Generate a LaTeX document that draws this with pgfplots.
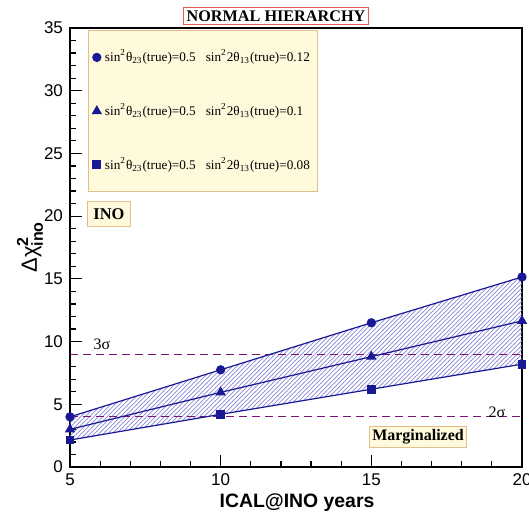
\documentclass[border=0pt]{standalone}
\usepackage{fontspec}
\setmainfont{Liberation Serif}
\setsansfont{Liberation Sans}
\usepackage{pgfplots}
\pgfplotsset{compat=1.18}
\usepgfplotslibrary{fillbetween}
\usetikzlibrary{patterns}

\definecolor{navy}{RGB}{25,25,150}
\definecolor{hatch}{RGB}{140,140,215}
\definecolor{sigmaline}{RGB}{120,20,120}
\definecolor{paneyellow}{RGB}{255,250,220}
\definecolor{paneborder}{RGB}{225,190,140}
\definecolor{titlered}{RGB}{225,90,90}

% fine diagonal hatching for the band
\pgfdeclarepatternformonly{densehatch}{\pgfqpoint{-1pt}{-1pt}}{\pgfqpoint{3.2pt}{3.2pt}}{\pgfqpoint{2.2pt}{2.2pt}}{
  \pgfsetlinewidth{0.35pt}
  \pgfpathmoveto{\pgfqpoint{-0.1pt}{-0.1pt}}
  \pgfpathlineto{\pgfqpoint{2.3pt}{2.3pt}}
  \pgfusepath{stroke}
}

\newcommand{\sinsq}{sin\textsuperscript{2}}
\newcommand{\entry}[1]{\sinsq θ\textsubscript{23}(true)=0.5\hspace{5pt}\sinsq 2θ\textsubscript{13}(true)=#1}

\begin{document}
\begin{tikzpicture}
\begin{axis}[
  at={(35pt,24pt)}, anchor=south west,
  width=226pt, height=219.5pt, scale only axis,
  xmin=5, xmax=20, ymin=0, ymax=35,
  xtick={5,10,15,20}, ytick={0,5,...,35},
  minor x tick num=4, minor y tick num=4,
  tick align=inside, tick pos=left,
  major tick length=6pt, minor tick length=3pt,
  axis line style={line width=0.7pt},
  tick style={black, line width=0.6pt},
  clip=false, set layers,
  ticklabel style={font=\sffamily\fontsize{8.5}{9}\selectfont},
  /pgf/number format/assume math mode=true,
  legend style={at={(0.04,0.995)}, anchor=north west, fill=paneyellow,
    draw=paneborder, line width=0.6pt, font=\fontsize{6.6}{7}\selectfont,
    row sep=15.3pt, inner xsep=2pt, inner ysep=7.5pt, cells={anchor=west}},
  legend image code/.code={\draw[only marks] plot coordinates {(0pt,0pt)};},
]
% 3 sigma and 2 sigma reference levels
\addplot[sigmaline, dash pattern=on 4pt off 2.5pt, line width=0.6pt, forget plot]
  coordinates {(5,9) (20,9)};
\addplot[sigmaline, dash pattern=on 4pt off 2.5pt, line width=0.6pt, forget plot]
  coordinates {(5,4) (20,4)};

\addplot[name path=upper, navy, line width=0.6pt, mark=*, mark size=2pt]
  coordinates {(5,4.0) (10,7.75) (15,11.5) (20,15.15)};
\addlegendentry{\entry{0.12}}
\addplot[navy, line width=0.6pt, mark=triangle*, mark size=2.4pt]
  coordinates {(5,3.0) (10,5.95) (15,8.8) (20,11.65)};
\addlegendentry{\entry{0.1}}
\addplot[name path=lower, navy, line width=0.6pt, mark=square*, mark size=1.9pt]
  coordinates {(5,2.15) (10,4.2) (15,6.2) (20,8.2)};
\addlegendentry{\entry{0.08}}

% hatched band between the highest and lowest theta13 curves (drawn behind)
\addplot[pattern=densehatch, pattern color=hatch, draw=none, forget plot]
  fill between[of=upper and lower];

\node[font=\fontsize{8}{9}\selectfont] at (axis cs:6.06,9.8) {3σ};
\node[font=\fontsize{8}{9}\selectfont] at (axis cs:19.17,4.38) {2σ};
\node[draw=paneborder, fill=paneyellow, line width=0.6pt, inner xsep=3pt, inner ysep=3.5pt,
  font=\bfseries\fontsize{8.2}{9}\selectfont] at (axis cs:6.29,20.16) {INO};
\node[draw=paneborder, fill=paneyellow, line width=0.6pt, inner sep=1.5pt,
  font=\bfseries\fontsize{8}{9}\selectfont] at (axis cs:16.55,2.4) {Marginalized};
\end{axis}

\node[draw=titlered, fill=white, line width=0.6pt, inner sep=1.5pt,
  font=\bfseries\fontsize{8.1}{9}\selectfont] at (138pt,249.5pt) {NORMAL HIERARCHY};
\node[font=\sffamily\bfseries\fontsize{9.7}{10}\selectfont] at (148.5pt,6pt) {ICAL@INO years};
\node[rotate=90, font=\sffamily\fontsize{11}{12}\selectfont] at (15pt,134pt)
  {$\mbox{Δχ}^{\mbox{\fontsize{8}{9}\selectfont\bfseries 2}}_{\mbox{\fontsize{8}{9}\selectfont\bfseries ino}}$};

\pgfresetboundingbox
\path[use as bounding box] (0,0) rectangle (264.5pt,257.5pt);
\end{tikzpicture}
\end{document}
